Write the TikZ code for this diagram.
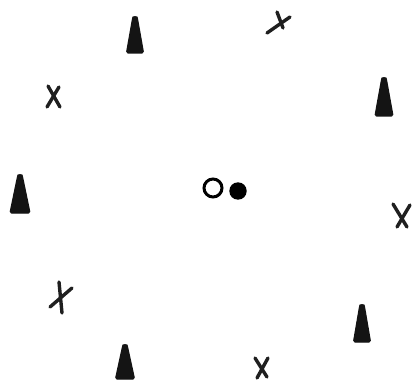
\documentclass[tikz,border=0pt]{standalone}
\begin{document}
\begin{tikzpicture}[x=1pt,y=-1pt,
  conefill/.style={fill=black!92,draw=black!92,line width=1.2pt,line join=round,rounded corners=1.5pt},
  xstroke/.style={draw=black!88,line width=3.4pt,line cap=round}]
\useasboundingbox[fill=white] (0,0) rectangle (412,385);
\newcommand{\mycone}[4]{\path[conefill] (#1-#4,#3) -- (#1-2.4,#2+1.5) to[out=75,in=105] (#1+2.4,#2+1.5) -- (#1+#4,#3) -- cycle;}
\mycone{135}{17}{53}{8.5}
\mycone{384}{78}{116}{9}
\mycone{20}{175}{213}{10}
\mycone{362}{305}{342}{8.5}
\mycone{125}{345}{379}{9.5}
% x marks
\draw[xstroke] (267,33) .. controls (277,26) .. (290,17);
\draw[xstroke] (277,12) -- (283,28);
\draw[xstroke] (48,86) -- (60,107);
\draw[xstroke] (59,87) -- (47,107);
\draw[xstroke] (393,204) -- (407,227);
\draw[xstroke] (397,227) -- (410,205);
\draw[xstroke] (59,282) -- (62,313);
\draw[xstroke] (72,288) -- (50,307);
\draw[xstroke] (255,358) -- (267,377);
\draw[xstroke] (268,358) -- (257,378);
% circles
\draw[black,line width=3pt] (213,188) circle (9);
\fill[black] (238,191) circle (8.7);
\end{tikzpicture}
\end{document}
